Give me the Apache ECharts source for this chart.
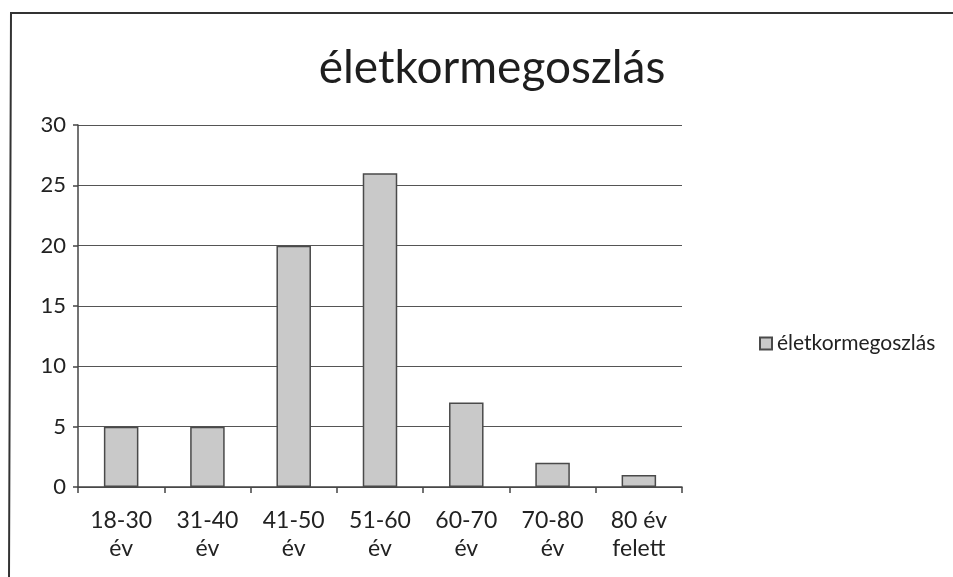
<!DOCTYPE html>
<html>
<head>
<meta charset="utf-8">
<script src="https://cdn.jsdelivr.net/npm/echarts@6/dist/echarts.min.js"></script>
<style>html,body{margin:0;padding:0;background:#fff;}#c{width:953px;height:577px;}</style>
</head>
<body>
<div id="c"></div>
<script>
const categories = ['18-30\név', '31-40\név', '41-50\név', '51-60\név', '60-70\név', '70-80\név', '80 év\nfelett'];
const seriesName = 'életkormegoszlás';
const values = [5, 5, 20, 26, 7, 2, 1];
const yTicks = [0, 5, 10, 15, 20, 25, 30];

const FONT = 'Lato';
const chart = echarts.init(document.getElementById('c'));
chart.setOption({
  backgroundColor: '#fff',
  animation: false,
  title: {
    text: seriesName,
    left: 487, top: 40, textAlign: 'center',
    textStyle: { fontFamily: FONT, fontSize: 46, fontWeight: 'normal', color: '#1e1e1e' }
  },
  legend: {
    data: [seriesName],
    left: 754, top: 328,
    itemWidth: 12, itemHeight: 12, itemGap: 6,
    icon: 'rect',
    textStyle: { fontFamily: FONT, fontSize: 21, color: '#222' }
  },
  grid: { left: 78, right: 271, top: 125, bottom: 90 },
  xAxis: {
    type: 'category',
    data: categories,
    axisLine: { lineStyle: { color: '#444', width: 1.5 } },
    axisTick: { show: true, length: 6, lineStyle: { color: '#444', width: 1.5 } },
    axisLabel: { fontFamily: FONT, fontSize: 23, color: '#222', margin: 20, lineHeight: 28 }
  },
  yAxis: {
    type: 'value',
    min: yTicks[0], max: yTicks[yTicks.length - 1], interval: 5,
    axisLine: { show: true, lineStyle: { color: '#444', width: 1.5 } },
    axisTick: { show: true, length: 5, lineStyle: { color: '#444', width: 1.5 } },
    axisLabel: { fontFamily: FONT, fontSize: 22, color: '#222', margin: 12 },
    splitLine: { lineStyle: { color: '#555', width: 1.2 } }
  },
  series: [{
    name: seriesName,
    type: 'bar',
    data: values,
    barWidth: '40%',
    itemStyle: { color: '#c9c9c9', borderColor: '#4a4a4a', borderWidth: 1.5 }
  }],
  graphic: [{
    type: 'polyline',
    shape: { points: [[9, 577], [11, 13], [953, 13]] },
    style: { stroke: '#333', lineWidth: 2, fill: null }
  }]
});
</script>
</body>
</html>
